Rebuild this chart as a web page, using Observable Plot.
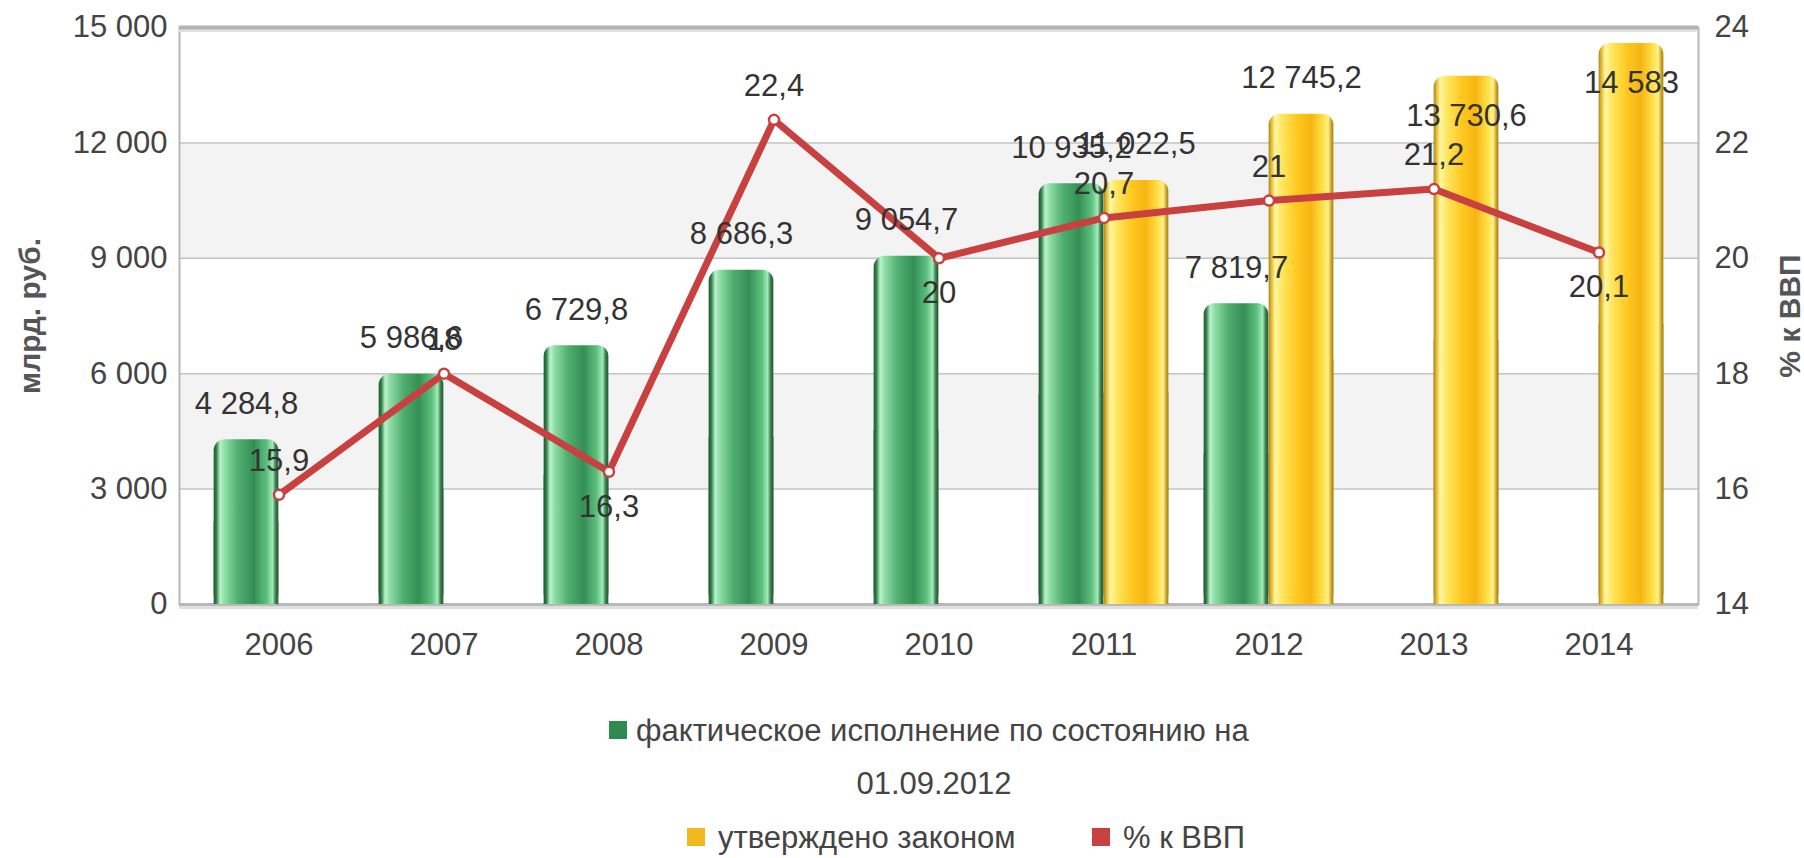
<!DOCTYPE html>
<html>
<head>
<meta charset="utf-8">
<script src="https://cdn.jsdelivr.net/npm/d3@7"></script>
<script src="https://cdn.jsdelivr.net/npm/@observablehq/plot@0.6"></script>
<style>
  html, body { margin: 0; padding: 0; background: #fff; }
  #wrap { position: relative; width: 1804px; height: 858px; font-family: "Liberation Sans", Arial, sans-serif; color: #444; }
  #legend { position: relative; width: 1804px; height: 168px; font-size: 31px; color: #444; }
  .li { position: absolute; transform: translateY(-50%); white-space: nowrap; line-height: 1; }
  .sw { position: absolute; width: 18px; height: 18px; transform: translateY(-50%); }
</style>
</head>
<body>
<div id="wrap">
  <div id="chart"></div>
  <div id="legend"></div>
</div>
<script>
// ---- data ----
const years = [2006, 2007, 2008, 2009, 2010, 2011, 2012, 2013, 2014];
const actual = [4284.8, 5986.6, 6729.8, 8686.3, 9054.7, 10935.2, 7819.7, null, null];
const approved = [null, null, null, null, null, 11022.5, 12745.2, 13730.6, 14583];
const gdpShare = [15.9, 18, 16.3, 22.4, 20, 20.7, 21, 21.2, 20.1];
const leftTicks = [0, 3000, 6000, 9000, 12000, 15000];
const rightTicks = [14, 16, 18, 20, 22, 24];
const shadeBands = [[3000, 6000], [9000, 12000]];
const seriesNames = ["фактическое исполнение по состоянию на", "01.09.2012", "утверждено законом", "% к ВВП"];
const leftTitle = "млрд. руб.";
const rightTitle = "% к ВВП";

// ---- helpers ----
const loc = d3.formatLocale({decimal: ",", thousands: " ", grouping: [3], currency: ["", ""]});
const fmtVal = loc.format(",.1~f");
const fmtInt = loc.format(",d");
const rMin = 14, rMax = 24, lMin = 0, lMax = 15000;
const toLeft = v => lMin + (v - rMin) / (rMax - rMin) * (lMax - lMin);
const fromLeft = v => rMin + (v - lMin) / (lMax - lMin) * (rMax - rMin);

const actualData = years.map((year, i) => ({year, v: actual[i]})).filter(d => d.v != null);
const approvedData = years.map((year, i) => ({year, v: approved[i]})).filter(d => d.v != null);
const shareData = years.map((year, i) => ({year, v: gdpShare[i], prev: i > 0 ? gdpShare[i - 1] : null}));

const GREEN = "#2e8b50", YELLOW = "#f2b820", RED = "#c8403f";
const half = 82.65, barW = 65;
const labelOff = 36;

const chart = Plot.plot({
  width: 1804,
  height: 690,
  marginLeft: 179,
  marginRight: 106,
  marginTop: 27,
  marginBottom: 86,
  style: {fontFamily: "'Liberation Sans', Arial, sans-serif", fontSize: "31px", color: "#333", background: "white", overflow: "visible"},
  x: {type: "band", domain: years, paddingInner: 0, paddingOuter: 0.095, label: null},
  y: {domain: [lMin, lMax], label: null},
  marks: [
    Plot.rect(shadeBands, {y1: d => d[0], y2: d => d[1], fill: "#f3f3f3"}),
    Plot.ruleY(leftTicks.slice(1, -1), {stroke: "#c4c4c4", strokeWidth: 1.5}),
    Plot.frame({stroke: "#b8b8b8", strokeWidth: 2}),
    Plot.ruleY([lMax], {stroke: "#e2e2e2", strokeWidth: 3, dy: 3}),
    Plot.ruleY([lMax], {stroke: "#b3b3b3", strokeWidth: 4}),
    Plot.ruleY([lMin], {stroke: "#e0e0e0", strokeWidth: 3, dy: 3}),
    Plot.ruleY([lMin], {stroke: "#b8b8b8", strokeWidth: 3}),
    // green bars (rounded top, squared bottom)
    Plot.barY(actualData, {x: "year", y: "v", fill: "url(#gGreen)", rx: 11, insetLeft: half - barW, insetRight: half}),
    Plot.barY(actualData, {x: "year", y1: 0, y2: d => d.v / 2, fill: "url(#gGreen)", insetLeft: half - barW, insetRight: half}),
    // yellow bars
    Plot.barY(approvedData, {x: "year", y: "v", fill: "url(#gYellow)", rx: 11, insetLeft: half, insetRight: half - barW}),
    Plot.barY(approvedData, {x: "year", y1: 0, y2: d => d.v / 2, fill: "url(#gYellow)", insetLeft: half, insetRight: half - barW}),
    // line
    Plot.line(shareData, {x: "year", y: d => toLeft(d.v), stroke: RED, strokeWidth: 7, strokeLinejoin: "round"}),
    Plot.dot(shareData, {x: "year", y: d => toLeft(d.v), r: 5, fill: "white", stroke: RED, strokeWidth: 2.5}),
    // value labels
    Plot.text(actualData, {x: "year", y: "v", text: d => fmtVal(d.v), dx: -barW / 2, dy: -labelOff, fill: "#333"}),
    Plot.text(approvedData, {x: "year", y: "v", text: d => fmtVal(d.v), dx: barW / 2, fill: "#333", filter: d => d.v <= 13000, dy: -labelOff}),
    Plot.text(approvedData, {x: "year", y: "v", text: d => fmtVal(d.v), dx: barW / 2, fill: "#333", filter: d => d.v > 13000, dy: labelOff + 4}),
    Plot.text(shareData, {x: "year", y: d => toLeft(d.v), text: d => fmtVal(d.v), fill: "#333", filter: d => !(d.prev != null && d.v < d.prev), dy: -34}),
    Plot.text(shareData, {x: "year", y: d => toLeft(d.v), text: d => fmtVal(d.v), fill: "#333", filter: d => d.prev != null && d.v < d.prev, dy: 35}),
    // axes
    Plot.axisY(leftTicks, {anchor: "left", tickSize: 0, tickPadding: 12, tickFormat: fmtInt, label: null, fill: "#444"}),
    Plot.axisY(rightTicks.map(toLeft), {anchor: "right", tickSize: 0, tickPadding: 16, tickFormat: v => fmtVal(fromLeft(v)), label: null, fill: "#444"}),
    Plot.axisX({tickSize: 0, tickPadding: 28, tickFormat: d => String(d), label: null, fill: "#444"}),
    // axis titles
    Plot.text([leftTitle], {frameAnchor: "left", textAnchor: "middle", dx: -149, rotate: -90, fontWeight: "bold", fill: "#555", fontSize: 30}),
    Plot.text([rightTitle], {frameAnchor: "right", textAnchor: "middle", dx: 92, rotate: -90, fontWeight: "bold", fill: "#555", fontSize: 30})
  ]
});

// gradients for cylinder-like bars
const defs = document.createElementNS("http://www.w3.org/2000/svg", "defs");
defs.innerHTML = `
<linearGradient id="gGreen" x1="0" x2="1" y1="0" y2="0">
  <stop offset="0" stop-color="#1f5a31"/>
  <stop offset="0.04" stop-color="#2f7d46"/>
  <stop offset="0.10" stop-color="#b9f3ca"/>
  <stop offset="0.18" stop-color="#8bdba3"/>
  <stop offset="0.38" stop-color="#4fae6f"/>
  <stop offset="0.62" stop-color="#358f55"/>
  <stop offset="0.82" stop-color="#5cc07e"/>
  <stop offset="0.91" stop-color="#a3eab8"/>
  <stop offset="0.96" stop-color="#3a7a4c"/>
  <stop offset="1" stop-color="#1f5a31"/>
</linearGradient>
<linearGradient id="gYellow" x1="0" x2="1" y1="0" y2="0">
  <stop offset="0" stop-color="#a8841a"/>
  <stop offset="0.04" stop-color="#e0b830"/>
  <stop offset="0.10" stop-color="#fff6a0"/>
  <stop offset="0.22" stop-color="#ffe45a"/>
  <stop offset="0.45" stop-color="#ffc71e"/>
  <stop offset="0.65" stop-color="#f6b512"/>
  <stop offset="0.84" stop-color="#ffe14a"/>
  <stop offset="0.92" stop-color="#fff08c"/>
  <stop offset="0.97" stop-color="#c9a020"/>
  <stop offset="1" stop-color="#a0800f"/>
</linearGradient>`;
chart.insertBefore(defs, chart.firstChild);
document.getElementById("chart").appendChild(chart);

// legend (HTML)
const legend = document.getElementById("legend");
const items = [
  {type: "sw", color: GREEN, left: 609, top: 40},
  {type: "li", text: seriesNames[0], left: 636, top: 40},
  {type: "li", text: seriesNames[1], center: 934, top: 93},
  {type: "sw", color: YELLOW, left: 687, top: 147},
  {type: "li", text: seriesNames[2], left: 718, top: 147},
  {type: "sw", color: RED, left: 1092, top: 147},
  {type: "li", text: seriesNames[3], left: 1123, top: 147}
];
for (const it of items) {
  const el = document.createElement("div");
  el.className = it.type;
  el.style.top = it.top + "px";
  if (it.type === "sw") {
    el.style.left = it.left + "px";
    el.style.background = it.color;
  } else {
    el.textContent = it.text;
    if (it.center != null) {
      el.style.left = it.center + "px";
      el.style.transform = "translate(-50%, -50%)";
    } else {
      el.style.left = it.left + "px";
    }
  }
  legend.appendChild(el);
}
</script>
</body>
</html>
